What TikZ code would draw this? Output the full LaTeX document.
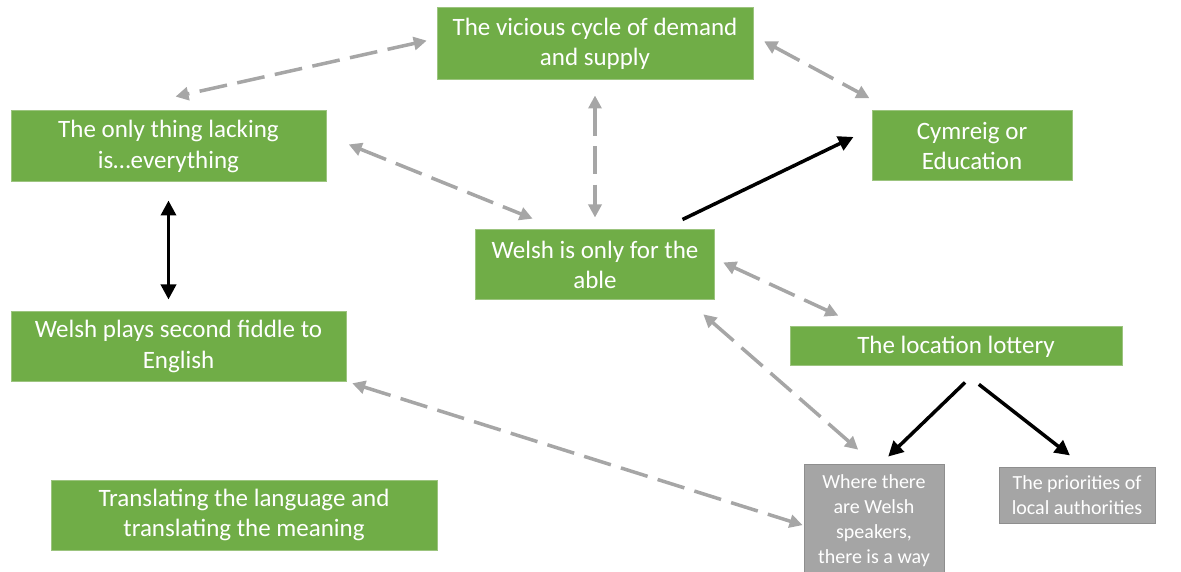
\documentclass[tikz,border=0pt]{standalone}
\usepackage{fontspec}
\setmainfont{Carlito}
\usepackage{xcolor}
\usepackage{tikz}
\usetikzlibrary{arrows.meta,positioning}
\definecolor{boxgreen}{HTML}{70AD47}
\definecolor{edgegreen}{HTML}{9CC47F}
\definecolor{boxgray}{HTML}{A5A5A5}
\definecolor{edgegray}{HTML}{8E8E8E}
\definecolor{linkgray}{HTML}{A6A6A6}

\begin{document}
\begin{tikzpicture}[x=1pt, y=1pt, on grid,
  greenbox/.style={fill=boxgreen, draw=edgegreen, line width=1pt, text=white, align=center, inner sep=0pt, font=\fontsize{25}{30.5}\selectfont},
  graybox/.style={fill=boxgray, draw=edgegray, line width=1pt, text=white, align=center, inner sep=0pt, font=\fontsize{20}{25}\selectfont},
  link/.style={{Triangle[length=13pt,width=13pt]}-{Triangle[length=13pt,width=13pt]}, draw=linkgray, line width=3.5pt, dash pattern=on 28pt off 10.5pt},
  flow/.style={-{Triangle[length=15pt,width=15pt]}, line width=3.5pt},
  flowboth/.style={{Triangle[length=15pt,width=15pt]}-{Triangle[length=15pt,width=15pt]}, line width=3.5pt}]
  \useasboundingbox (0,0) rectangle (1181,571);

  \node[greenbox, minimum width=316pt, minimum height=72pt] (vic) at (595,527) {The vicious cycle of demand\\and supply};
  \node[greenbox, minimum width=315pt, minimum height=71pt, below left=102.5pt and 426.5pt of vic] (only) {The only thing lacking\\is…everything};
  \node[greenbox, minimum width=200pt, minimum height=70pt, below right=102pt and 377pt of vic] (cym) {Cymreig or\\Education};
  \node[greenbox, minimum width=239pt, minimum height=70pt, below=221pt of vic] (able) {Welsh is only for the\\able};
  \node[greenbox, minimum width=335pt, minimum height=69pt, below right=200pt and 10pt of only] (plays) {Welsh plays second fiddle to\\English};
  \node[greenbox, minimum width=332pt, minimum height=39pt, right=777.5pt of plays] (loc) {The location lottery};
  \node[greenbox, minimum width=386pt, minimum height=70pt, below right=168.5pt and 65.5pt of plays] (trans) {Translating the language and\\translating the meaning};
  \node[graybox, minimum width=140pt, minimum height=113pt, below left=174pt and 82pt of loc] (where) {Where there\\are Welsh\\speakers,\\there is a way};
  \node[graybox, minimum width=156pt, minimum height=56pt, above right=25.5pt and 203pt of where] (prio) {The priorities of\\local authorities};

  \draw[link, shorten <=10pt, shorten >=64pt] (vic.178) -- (only.147);
  \draw[link, shorten <=12pt, shorten >=26pt] (vic.3) -- (cym.156);
  \draw[link, shorten <=15pt, shorten >=12pt] (vic.south) -- (able.north);
  \draw[link, shorten <=24pt, shorten >=29pt] (only.4) -- (able.135);
  \draw[flow, shorten <=23pt, shorten >=20pt] (able.28) -- (cym.170);
  \draw[flowboth, shorten <=18pt, shorten >=12pt] (only.south) -- (only.south |- plays.north);
  \draw[link, shorten <=9pt, shorten >=26pt] (able.3) -- (loc.168);
  \draw[link, shorten <=21pt, shorten >=21pt] (able.339) -- (where.north);
  \draw[link, shorten <=6pt, shorten >=1pt] (plays.south east) -- (where.184);
  \draw[flow, shorten <=23pt, shorten >=10pt] (loc.322) -- (where.83);
  \draw[flow, shorten <=29pt, shorten >=18pt] (loc.south) -- (prio.76);
\end{tikzpicture}
\end{document}
